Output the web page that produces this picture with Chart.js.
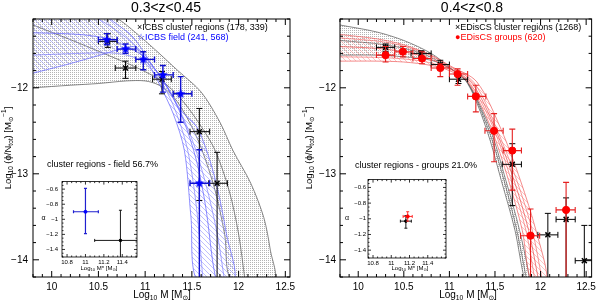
<!DOCTYPE html>
<html>
<head>
<meta charset="utf-8">
<title>Stellar mass functions</title>
<script src="https://cdn.jsdelivr.net/npm/chart.js@4.4.1/dist/chart.umd.min.js"></script>
<style>
  body { margin: 0; background: #fff; }
  .panel { position: absolute; }
</style>
</head>
<body>
<div class="panel" style="left:0;top:0"><canvas id="icbsChart" width="300" height="301"></canvas></div>
<div class="panel" style="left:300px;top:0"><canvas id="ediscsChart" width="300" height="301"></canvas></div>
<div class="panel" style="left:36px;top:174px"><canvas id="icbsInset" width="106" height="100"></canvas></div>
<div class="panel" style="left:340px;top:174px"><canvas id="ediscsInset" width="111" height="100"></canvas></div>
<script>
const FAM = '"Liberation Sans", "DejaVu Sans", Arial, sans-serif';

// axes
const mainXTicks = [10, 10.5, 11, 11.5, 12, 12.5];
const mainYTicks = [-14, -13, -12];
const insetXTicks = [10.8, 11, 11.2, 11.4];
const insetYTicks = [-1.4, -1.2, -1, -0.8, -0.6];

// ---- ICBS 0.3<z<0.45 ----
// field (blue stars)
const icbsFieldX   = [10.59, 10.79, 10.98, 11.19, 11.38, 11.58];
const icbsFieldY   = [-11.44, -11.55, -11.67, -11.85, -12.07, -13.11];
const icbsFieldXlo = [10.50, 10.70, 10.90, 11.10, 11.30, 11.48];
const icbsFieldXhi = [10.70, 10.90, 11.10, 11.30, 11.50, 11.69];
const icbsFieldYlo = [-11.50, -11.60, -11.79, -12.05, -12.40, -14.50];
const icbsFieldYhi = [-11.37, -11.49, -11.58, -11.74, -11.87, -12.72];
// cluster regions (black crosses)
const icbsClusX   = [10.60, 10.79, 11.18, 11.58, 11.77];
const icbsClusY   = [-11.46, -11.77, -11.90, -12.51, -13.11];
const icbsClusXlo = [10.50, 10.68, 11.08, 11.48, 11.68];
const icbsClusXhi = [10.70, 10.90, 11.28, 11.69, 11.88];
const icbsClusYlo = [-11.53, -11.89, -12.07, -13.31, -14.50];
const icbsClusYhi = [-11.37, -11.69, -11.81, -12.24, -12.75];
// fitted curves and envelopes
const icbsClusUpX  = [9.8, 10.4, 10.71, 10.9, 11.1, 11.35, 11.6, 11.8, 11.94, 12.13, 12.27, 12.34, 12.38];
const icbsClusUpY  = [-10.9, -11.05, -11.2, -11.36, -11.55, -11.8, -12.05, -12.4, -12.73, -13.11, -13.51, -13.89, -14.25];
const icbsClusLoX  = [9.8, 10.2, 10.5, 10.8, 11.0, 11.15, 11.3, 11.45, 11.6, 11.75, 11.85, 11.93];
const icbsClusLoY  = [-12.0, -11.97, -11.95, -11.92, -11.92, -11.97, -12.1, -12.35, -12.7, -13.2, -13.7, -14.25];
const icbsClusFitX = [9.8, 10.2, 10.6, 10.9, 11.19, 11.4, 11.6, 11.75, 11.9, 12.0, 12.07];
const icbsClusFitY = [-11.27, -11.44, -11.62, -11.76, -11.93, -12.15, -12.45, -12.73, -13.2, -13.7, -14.25];
const icbsFieldUpX = [9.8, 10.4, 10.66, 10.87, 11.09, 11.24, 11.38, 11.55, 11.68, 11.78, 11.87, 11.95];
const icbsFieldUpY = [-10.9, -11.0, -11.23, -11.41, -11.76, -11.99, -12.26, -12.45, -12.8, -13.2, -13.7, -14.25];
const icbsFieldLoX = [9.8, 10.16, 10.52, 10.87, 10.95, 11.05, 11.15, 11.3, 11.42, 11.49, 11.56];
const icbsFieldLoY = [-11.83, -11.73, -11.62, -11.52, -11.6, -11.75, -11.95, -12.3, -12.73, -13.5, -14.25];
const icbsFieldFitX  = [9.8, 10.3, 10.6, 10.8, 11.0, 11.2, 11.4, 11.55, 11.65, 11.72, 11.76];
const icbsFieldFitY  = [-11.36, -11.38, -11.43, -11.52, -11.65, -11.93, -12.35, -12.85, -13.4, -14.0, -14.25];
const icbsFieldFit2X = [10.2, 10.5, 10.8, 11.0, 11.2, 11.4, 11.55, 11.68, 11.78, 11.85];
const icbsFieldFit2Y = [-11.05, -11.2, -11.42, -11.64, -11.93, -12.33, -12.75, -13.25, -13.75, -14.25];
const icbsFieldFit3X = [9.8, 10.3, 10.7, 10.95, 11.15, 11.3, 11.45, 11.55, 11.62];
const icbsFieldFit3Y = [-11.62, -11.6, -11.6, -11.68, -11.9, -12.2, -12.7, -13.4, -14.25];
// inset: M* vs alpha
const icbsAlphaField = {m: [11.0], a: [-0.9], mlo: [10.87], mhi: [11.14], alo: [-1.19], ahi: [-0.59]};
const icbsAlphaClus  = {m: [11.38], a: [-1.28], mlo: [11.1], mhi: [11.7], alo: [-1.6], ahi: [-0.88]};

// ---- EDisCS 0.4<z<0.8 ----
// groups (red circles)
const edGrpX   = [10.30, 10.49, 10.70, 10.90, 11.09, 11.29, 11.49, 11.69, 11.89, 12.28];
const edGrpY   = [-11.62, -11.58, -11.66, -11.77, -11.84, -12.10, -12.50, -12.73, -13.72, -13.42];
const edGrpXlo = [10.20, 10.40, 10.60, 10.80, 11.00, 11.20, 11.39, 11.59, 11.78, 12.17];
const edGrpXhi = [10.40, 10.60, 10.80, 11.00, 11.20, 11.40, 11.59, 11.79, 11.99, 12.38];
const edGrpYlo = [-11.70, -11.64, -11.72, -11.87, -11.97, -12.28, -12.86, -13.19, -14.50, -14.50];
const edGrpYhi = [-11.52, -11.52, -11.58, -11.72, -11.78, -11.97, -12.30, -12.48, -13.41, -13.10];
// cluster regions (black crosses)
const edClusX   = [10.30, 10.69, 10.90, 11.10, 11.69, 12.08, 12.28, 12.48];
const edClusY   = [-11.53, -11.60, -11.73, -11.90, -12.89, -13.71, -13.53, -14.01];
const edClusXlo = [10.20, 10.58, 10.80, 11.00, 11.58, 11.97, 12.17, 12.38];
const edClusXhi = [10.40, 10.80, 11.00, 11.20, 11.79, 12.19, 12.38, 12.60];
const edClusYlo = [-11.58, -11.64, -11.78, -11.95, -13.37, -14.50, -14.50, -14.50];
const edClusYhi = [-11.49, -11.57, -11.68, -11.86, -12.65, -13.46, -13.28, -13.60];
// curves
const edClusAX = [9.8, 10.2, 10.5, 10.8, 11.0, 11.2, 11.41, 11.57, 11.72, 11.83];
const edClusAY = [-11.27, -11.35, -11.45, -11.6, -11.76, -11.95, -12.49, -13.08, -13.66, -14.25];
const edClusBX = [9.8, 10.2, 10.5, 10.8, 11.0, 11.2, 11.45, 11.62, 11.77, 11.88];
const edClusBY = [-11.62, -11.62, -11.64, -11.68, -11.77, -11.94, -12.49, -13.08, -13.66, -14.25];
const edClusFitX = [9.8, 10.3, 10.7, 11.0, 11.2, 11.43, 11.6, 11.74, 11.85];
const edClusFitY = [-11.45, -11.5, -11.6, -11.77, -11.94, -12.49, -13.08, -13.66, -14.25];
const edGrpAX = [9.8, 10.2, 10.5, 10.8, 11.0, 11.3, 11.57, 11.78, 11.95, 12.07];
const edGrpAY = [-11.38, -11.43, -11.5, -11.62, -11.74, -11.93, -12.49, -13.08, -13.66, -14.25];
const edGrpBX = [9.8, 10.2, 10.5, 10.8, 11.0, 11.2, 11.45, 11.65, 11.8, 11.9];
const edGrpBY = [-11.69, -11.69, -11.7, -11.74, -11.8, -11.93, -12.45, -13.08, -13.66, -14.25];
const edGrpFitX  = [9.8, 10.3, 10.7, 11.0, 11.25, 11.5, 11.71, 11.87, 11.98];
const edGrpFitY  = [-11.52, -11.55, -11.63, -11.77, -11.95, -12.47, -13.08, -13.66, -14.25];
const edGrpFit2X = [9.8, 10.3, 10.7, 11.0, 11.27, 11.52, 11.74, 11.91, 12.02];
const edGrpFit2Y = [-11.42, -11.47, -11.58, -11.75, -11.94, -12.48, -13.08, -13.66, -14.25];
const edGrpFit3X = [9.8, 10.3, 10.7, 11.0, 11.22, 11.48, 11.68, 11.84, 11.94];
const edGrpFit3Y = [-11.64, -11.65, -11.69, -11.78, -11.94, -12.46, -13.08, -13.66, -14.25];
// inset
const edAlphaGrp  = {m: [11.18], a: [-0.97], mlo: [11.13], mhi: [11.23], alo: [-1.03], ahi: [-0.91]};
const edAlphaClus = {m: [11.16], a: [-1.03], mlo: [11.10], mhi: [11.22], alo: [-1.12], ahi: [-0.96]};

// ---------- helpers ----------
function pts(xs, ys) { return xs.map((x, i) => ({x: x, y: ys[i]})); }

// closed outline: one edge forward, the other edge backward
function bandPts(ax, ay, bx, by) {
    const p = pts(ax, ay);
    for (let i = bx.length - 1; i >= 0; i--) p.push({x: bx[i], y: by[i]});
    return p;
}

function fmtTick(v) {
    const r = Math.round(Math.abs(v) * 100) / 100;
    return (v < 0 ? '\u2212' : '') + r;
}

function hatchPattern(color) {
    const n = 5;
    const c = document.createElement('canvas');
    c.width = c.height = n;
    const g = c.getContext('2d');
    g.strokeStyle = color;
    g.lineWidth = 0.6;
    g.beginPath();
    g.moveTo(0, 0); g.lineTo(n, n);
    g.moveTo(-1, n - 1); g.lineTo(1, n + 1);
    g.moveTo(n - 1, -1); g.lineTo(n + 1, 1);
    g.stroke();
    return g.createPattern(c, 'repeat');
}

function dotPattern(color) {
    const c = document.createElement('canvas');
    c.width = c.height = 2;
    const g = c.getContext('2d');
    g.fillStyle = color;
    g.fillRect(0, 0, 1, 1);
    return g.createPattern(c, 'repeat');
}

function starImage(r, color) {
    const c = document.createElement('canvas');
    c.width = c.height = 2 * r + 2;
    const g = c.getContext('2d');
    g.fillStyle = color;
    g.beginPath();
    for (let k = 0; k < 10; k++) {
        const rr = k % 2 ? r * 0.45 : r;
        const ang = -Math.PI / 2 + k * Math.PI / 5;
        g.lineTo(r + 1 + rr * Math.cos(ang), r + 1 + rr * Math.sin(ang));
    }
    g.closePath();
    g.fill();
    return c;
}

function band(data, pattern, border, order) {
    return {data: data, fill: 'shape', backgroundColor: pattern, borderColor: border, borderWidth: 0.7,
            pointRadius: 0, tension: 0.3, capBezierPoints: false, clip: 0, order: order};
}

function curve(xs, ys, color, order) {
    return {data: pts(xs, ys), fill: false, borderColor: color, borderWidth: 0.7,
            pointRadius: 0, tension: 0.3, capBezierPoints: false, clip: 0, order: order};
}

function markers(xs, ys, lo, hi, ylo, yhi, look, order) {
    return Object.assign({
        data: pts(xs, ys), showLine: false, fill: false, clip: 0, order: order,
        errors: {xlo: lo, xhi: hi, ylo: ylo, yhi: yhi, color: look.errColor, width: look.errWidth, cap: look.cap}
    }, look.point);
}

// error bars, drawn just under their own markers
const errorBars = {
    id: 'errorBars',
    beforeDatasetDraw(chart, args) {
        const ds = chart.data.datasets[args.index];
        if (!ds.errors) return;
        const e = ds.errors;
        const {ctx, chartArea: a} = chart;
        const xs = chart.scales.x, ys = chart.scales.y;
        ctx.save();
        ctx.beginPath();
        ctx.rect(a.left, a.top, a.right - a.left, a.bottom - a.top);
        ctx.clip();
        ctx.strokeStyle = e.color;
        ctx.lineWidth = e.width;
        ds.data.forEach((p, i) => {
            const x = xs.getPixelForValue(p.x), y = ys.getPixelForValue(p.y);
            const x0 = xs.getPixelForValue(e.xlo[i]), x1 = xs.getPixelForValue(e.xhi[i]);
            const y0 = ys.getPixelForValue(e.ylo[i]), y1 = ys.getPixelForValue(e.yhi[i]);
            ctx.beginPath();
            ctx.moveTo(x0, y); ctx.lineTo(x1, y);
            ctx.moveTo(x, y0); ctx.lineTo(x, y1);
            ctx.moveTo(x0, y - e.cap); ctx.lineTo(x0, y + e.cap);
            ctx.moveTo(x1, y - e.cap); ctx.lineTo(x1, y + e.cap);
            ctx.moveTo(x - e.cap, y0); ctx.lineTo(x + e.cap, y0);
            ctx.moveTo(x - e.cap, y1); ctx.lineTo(x + e.cap, y1);
            ctx.stroke();
        });
        ctx.restore();
    }
};
Chart.register(errorBars);

// box with inward ticks on all four sides
function framePlugin(o) {
    return {
        id: 'frame',
        afterDatasetsDraw(chart) {
            const {ctx, chartArea: a} = chart;
            const xs = chart.scales.x, ys = chart.scales.y;
            const isMajor = (s, v) => s.ticks.some(t => Math.abs(t.value - v) < 1e-6);
            ctx.save();
            ctx.strokeStyle = '#000';
            ctx.lineWidth = o.lw;
            ctx.beginPath();
            for (let n = Math.ceil(xs.min / o.xMinor - 1e-6); n * o.xMinor <= xs.max + 1e-9; n++) {
                const v = n * o.xMinor, p = xs.getPixelForValue(v);
                const len = isMajor(xs, v) ? o.major : o.minor;
                ctx.moveTo(p, a.bottom); ctx.lineTo(p, a.bottom - len);
                ctx.moveTo(p, a.top); ctx.lineTo(p, a.top + len);
            }
            for (let n = Math.ceil(ys.min / o.yMinor - 1e-6); n * o.yMinor <= ys.max + 1e-9; n++) {
                const v = n * o.yMinor, p = ys.getPixelForValue(v);
                const len = isMajor(ys, v) ? o.major : o.minor;
                ctx.moveTo(a.left, p); ctx.lineTo(a.left + len, p);
                ctx.moveTo(a.right, p); ctx.lineTo(a.right - len, p);
            }
            ctx.stroke();
            ctx.strokeRect(a.left, a.top, a.right - a.left, a.bottom - a.top);
            ctx.restore();
        }
    };
}

// text with sub/superscripts: parts = [[text, ''|'sub'|'sup'], ...]
function drawRich(ctx, parts, x, y, size, align) {
    const fontOf = m => (m ? size * 0.68 : size) + 'px ' + FAM;
    let w = 0;
    const ws = parts.map(([t, m]) => { ctx.font = fontOf(m); const v = ctx.measureText(t).width; w += v; return v; });
    let cx = align === 'center' ? x - w / 2 : (align === 'right' ? x - w : x);
    parts.forEach(([t, m], i) => {
        ctx.font = fontOf(m);
        const dy = m === 'sub' ? size * 0.3 : (m === 'sup' ? -size * 0.35 : 0);
        ctx.fillText(t, cx, y + dy);
        cx += ws[i];
    });
}

function textPlugin(items) {
    return {
        id: 'texts',
        afterDraw(chart) {
            const ctx = chart.ctx;
            items.forEach(it => {
                ctx.save();
                ctx.textBaseline = 'middle';
                ctx.textAlign = 'left';
                ctx.fillStyle = it.color || '#000';
                ctx.translate(it.x, it.y);
                if (it.rotate) ctx.rotate(-Math.PI / 2);
                const parts = typeof it.text === 'string' ? [[it.text, '']] : it.text;
                drawRich(ctx, parts, 0, 0, it.size, it.align || 'left');
                ctx.restore();
            });
        }
    };
}

function axis(min, max, ticks, size, padding, fit, pos) {
    return {
        type: 'linear', position: pos, min: min, max: max,
        grid: {display: false, drawTicks: false},
        border: {display: false},
        afterBuildTicks: s => { s.ticks = ticks.map(v => ({value: v})); },
        afterFit: fit,
        ticks: {color: '#000', padding: padding, autoSkip: false, maxRotation: 0,
                font: {family: FAM, size: size}, callback: v => fmtTick(v)}
    };
}

function makeChart(id, datasets, o) {
    return new Chart(document.getElementById(id), {
        type: 'line',
        data: {datasets: datasets},
        options: {
            responsive: false,
            animation: false,
            events: [],
            layout: {padding: o.padding},
            plugins: {legend: {display: false}, tooltip: {enabled: false}},
            scales: {
                x: axis(o.xMin, o.xMax, o.xTicks, o.font, o.xPad, s => { s.height = o.xHeight; }, 'bottom'),
                y: axis(o.yMin, o.yMax, o.yTicks, o.font, o.yPad, s => { s.width = o.yWidth; }, 'left')
            }
        },
        plugins: [framePlugin(o.frame), textPlugin(o.texts)]
    });
}

// ---------- styles ----------
const crossLook = {errColor: '#000', errWidth: 1, cap: 3,
    point: {pointStyle: 'crossRot', pointRadius: 3.5, pointBorderColor: '#000', pointBorderWidth: 1.5}};
const starLook = {errColor: '#1010d0', errWidth: 1.4, cap: 3,
    point: {pointStyle: starImage(5, '#0000ff'), pointRadius: 5}};
const dotLook = {errColor: '#e52020', errWidth: 1.1, cap: 3,
    point: {pointStyle: 'circle', pointRadius: 3.6, pointBackgroundColor: '#ff0000', pointBorderColor: '#ff0000', pointBorderWidth: 1}};

const greyDots = dotPattern('#b4b4b4');
const blueHatch = hatchPattern('#9494ff');
const redHatch = hatchPattern('#ff9a9a');

const mainFrame = {lw: 1, major: 6, minor: 3, xMinor: 0.1, yMinor: 0.2};
const insetFrame = {lw: 0.8, major: 3, minor: 1.5, xMinor: 0.05, yMinor: 0.05};

const yTitle = [['Log', ''], ['10', 'sub'], [' (\u03d5/N', ''], ['tot', 'sub'], [') [M', ''], ['\u2299', 'sub'], ['\u22121', 'sup'], [']', '']];
const xTitle = [['Log', ''], ['10', 'sub'], [' M [M', ''], ['\u2299', 'sub'], [']', '']];
const xInsetTitle = [['Log', ''], ['10', 'sub'], [' M* [M', ''], ['\u2299', 'sub'], [']', '']];

// ---------- ICBS panel ----------
makeChart('icbsChart', [
    markers(icbsFieldX, icbsFieldY, icbsFieldXlo, icbsFieldXhi, icbsFieldYlo, icbsFieldYhi, starLook, 0),
    markers(icbsClusX, icbsClusY, icbsClusXlo, icbsClusXhi, icbsClusYlo, icbsClusYhi, crossLook, 1),
    curve(icbsFieldFitX, icbsFieldFitY, '#5a5aff', 3),
    curve(icbsFieldFit2X, icbsFieldFit2Y, '#8080ff', 3),
    curve(icbsFieldFit3X, icbsFieldFit3Y, '#8080ff', 3),
    band(bandPts(icbsFieldUpX, icbsFieldUpY, icbsFieldLoX, icbsFieldLoY), blueHatch, '#6060ff', 4),
    curve(icbsClusFitX, icbsClusFitY, '#555', 5),
    band(bandPts(icbsClusUpX, icbsClusUpY, icbsClusLoX, icbsClusLoY), greyDots, '#555', 6)
], {
    padding: {left: 0, right: 10, top: 19, bottom: 0},
    xMin: 9.8, xMax: 12.55, yMin: -14.2, yMax: -11.2,
    xTicks: mainXTicks, yTicks: mainYTicks, font: 10, xPad: 4, yPad: 5, xHeight: 24, yWidth: 33,
    frame: mainFrame,
    texts: [
        {text: '0.3<z<0.45', x: 166, y: 8, size: 14, align: 'center'},
        {text: '\u00d7ICBS cluster regions (178, 339)', x: 137, y: 28, size: 9},
        {text: '\u2606ICBS field (241, 568)', x: 137, y: 38, size: 9, color: '#0000ff'},
        {text: 'cluster regions - field 56.7%', x: 47, y: 165, size: 9},
        {text: xTitle, x: 162, y: 295, size: 10, align: 'center'},
        {text: yTitle, x: 8, y: 148, size: 9.5, align: 'center', rotate: true}
    ]
});

// ---------- EDisCS panel ----------
makeChart('ediscsChart', [
    markers(edGrpX, edGrpY, edGrpXlo, edGrpXhi, edGrpYlo, edGrpYhi, dotLook, 0),
    markers(edClusX, edClusY, edClusXlo, edClusXhi, edClusYlo, edClusYhi, crossLook, 1),
    curve(edGrpFitX, edGrpFitY, '#e84848', 3),
    curve(edGrpFit2X, edGrpFit2Y, '#f27070', 3),
    curve(edGrpFit3X, edGrpFit3Y, '#f27070', 3),
    band(bandPts(edGrpAX, edGrpAY, edGrpBX, edGrpBY), redHatch, '#ee5a5a', 4),
    curve(edClusFitX, edClusFitY, '#555', 5),
    band(bandPts(edClusAX, edClusAY, edClusBX, edClusBY), greyDots, '#555', 6)
], {
    padding: {left: 0, right: 3, top: 19, bottom: 0},
    xMin: 9.8, xMax: 12.56, yMin: -14.2, yMax: -11.2,
    xTicks: mainXTicks, yTicks: mainYTicks, font: 10, xPad: 4, yPad: 4, xHeight: 24, yWidth: 40,
    frame: mainFrame,
    texts: [
        {text: '0.4<z<0.8', x: 172, y: 8, size: 14, align: 'center'},
        {text: '\u00d7EDisCS cluster regions (1268)', x: 155, y: 28, size: 9},
        {text: '\u25cfEDisCS groups (620)', x: 155, y: 38, size: 9, color: '#ff0000'},
        {text: 'cluster regions - groups 21.0%', x: 55, y: 166, size: 9},
        {text: xTitle, x: 168, y: 295, size: 10, align: 'center'},
        {text: yTitle, x: 9, y: 148, size: 9.5, align: 'center', rotate: true}
    ]
});

// ---------- insets ----------
const insetCross = {errColor: '#000', errWidth: 0.9, cap: 1.5,
    point: {pointStyle: 'circle', pointRadius: 1.3, pointBackgroundColor: '#000', pointBorderColor: '#000'}};
const insetBlue = {errColor: '#2020d0', errWidth: 1.2, cap: 1.5,
    point: {pointStyle: 'circle', pointRadius: 1.5, pointBackgroundColor: '#0000ff', pointBorderColor: '#0000ff'}};
const insetRed = {errColor: '#ff3030', errWidth: 1, cap: 1.5,
    point: {pointStyle: 'circle', pointRadius: 1.6, pointBackgroundColor: '#ff0000', pointBorderColor: '#ff0000'}};

function insetMarkers(s, look, order) {
    return markers(s.m, s.a, s.mlo, s.mhi, s.alo, s.ahi, look, order);
}

makeChart('icbsInset', [
    insetMarkers(icbsAlphaField, insetBlue, 0),
    insetMarkers(icbsAlphaClus, insetCross, 1)
], {
    padding: {left: 0, right: 5, top: 5, bottom: 0},
    xMin: 10.745, xMax: 11.56, yMin: -1.5, yMax: -0.5,
    xTicks: insetXTicks, yTicks: insetYTicks, font: 6, xPad: 2, yPad: 4, xHeight: 17, yWidth: 26,
    frame: insetFrame,
    texts: [
        {text: '\u03b1', x: 5.5, y: 44, size: 7},
        {text: xInsetTitle, x: 63, y: 94.5, size: 6, align: 'center'}
    ]
});

makeChart('ediscsInset', [
    insetMarkers(edAlphaGrp, insetRed, 0),
    insetMarkers(edAlphaClus, insetCross, 1)
], {
    padding: {left: 0, right: 3, top: 4, bottom: 0},
    xMin: 10.745, xMax: 11.6, yMin: -1.5, yMax: -0.5,
    xTicks: insetXTicks, yTicks: insetYTicks, font: 6, xPad: 2, yPad: 2, xHeight: 16, yWidth: 28,
    frame: insetFrame,
    texts: [
        {text: '\u03b1', x: 5, y: 44, size: 7},
        {text: xInsetTitle, x: 70, y: 94.5, size: 6, align: 'center'}
    ]
});
</script>
</body>
</html>
